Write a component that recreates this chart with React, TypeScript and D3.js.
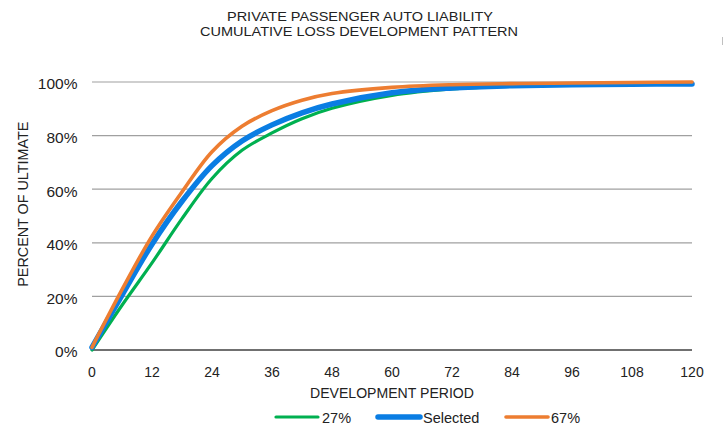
import React from "react";
import * as d3 from "d3";

const months = [0, 6, 12, 18, 24, 30, 36, 42, 48, 60, 72, 84, 96, 108, 120];
const low27 = [0, 16.7, 32.5, 49, 64, 74.5, 81, 86.3, 90.2, 95, 97.4, 98.5, 99.0, 99.3, 99.5];
const selected = [1, 20.5, 39.5, 55.5, 68.8, 78, 84, 88.5, 91.8, 96, 97.8, 98.6, 99.0, 99.2, 99.3];
const high67 = [1, 22.5, 42.5, 59, 74, 83.5, 89.3, 93.2, 95.7, 98, 99, 99.4, 99.6, 99.8, 100];
const xTicks = [0, 12, 24, 36, 48, 60, 72, 84, 96, 108, 120];
const yTicks = [0, 20, 40, 60, 80, 100];
const seriesNames = ["27%", "Selected", "67%"];

const W = 724, H = 431;
const FONT = "'Liberation Sans', Arial, sans-serif";

export default function App() {
  const x = d3.scaleLinear().domain([0, 120]).range([92, 692]);
  const y = d3.scaleLinear().domain([0, 100]).range([350, 82]);
  const line = d3
    .line<[number, number]>()
    .x((d) => x(d[0]))
    .y((d) => y(d[1]))
    .curve(d3.curveCatmullRom.alpha(0.5));
  const series = [
    { name: seriesNames[0], vals: low27, color: "#00B050", w: 3.2 },
    { name: seriesNames[1], vals: selected, color: "#0A7DE3", w: 5.5 },
    { name: seriesNames[2], vals: high67, color: "#ED7D31", w: 3.6 },
  ];
  const legend = [
    { i: 0, x1: 276, tx: 322 },
    { i: 1, x1: 378, tx: 423 },
    { i: 2, x1: 506, tx: 551 },
  ];
  return (
    <svg
      width={W}
      height={H}
      style={{ position: "absolute", left: 0, top: 0, background: "#fff" }}
      fontFamily={FONT}
    >
      <rect width={W} height={H} fill="#fff" />
      <text x={227} y={20.5} fontSize={13} fill="#222" textLength={266} lengthAdjust="spacingAndGlyphs">
        PRIVATE PASSENGER AUTO LIABILITY
      </text>
      <text x={200} y={35.5} fontSize={13} fill="#222" textLength={318} lengthAdjust="spacingAndGlyphs">
        CUMULATIVE LOSS DEVELOPMENT PATTERN
      </text>
      {yTicks.map((t) =>
        t === 0 ? null : (
          <line key={t} x1={92} x2={692} y1={y(t)} y2={y(t)} stroke="#A0A0A0" strokeWidth={1.2} />
        )
      )}
      <line x1={92} x2={692} y1={y(0)} y2={y(0)} stroke="#404040" strokeWidth={1.3} />
      {yTicks.map((t) => (
        <text key={t} x={77.5} y={y(t) + 7.3} textAnchor="end" fontSize={15.5} fill="#222">
          {t}%
        </text>
      ))}
      {xTicks.map((t) => (
        <text key={t} x={x(t)} y={376.7} textAnchor="middle" fontSize={14} fill="#222">
          {t}
        </text>
      ))}
      <text x={310} y={398.3} fontSize={14} fill="#222" textLength={164} lengthAdjust="spacingAndGlyphs">
        DEVELOPMENT PERIOD
      </text>
      <text
        transform={`translate(28.3,286.7) rotate(-90)`}
        fontSize={14}
        fill="#222"
        textLength={165}
        lengthAdjust="spacingAndGlyphs"
      >
        PERCENT OF ULTIMATE
      </text>
      {series.map((s) => {
        const pts = months.map((m, k) => [m, s.vals[k]] as [number, number]);
        return (
          <path
            key={s.name}
            d={line(pts) || ""}
            fill="none"
            stroke={s.color}
            strokeWidth={s.w}
            strokeLinecap="round"
            strokeLinejoin="round"
          />
        );
      })}
      {legend.map((l) => {
        const s = series[l.i];
        return (
          <g key={s.name}>
            <line x1={l.x1} x2={l.x1 + 42} y1={417} y2={417} stroke={s.color} strokeWidth={s.w} strokeLinecap="round" />
            <text x={l.tx} y={423} fontSize={14.5} fill="#222">
              {s.name}
            </text>
          </g>
        );
      })}
      <line x1={722.5} x2={722.5} y1={37} y2={45} stroke="#C0C0C0" strokeWidth={1} />
    </svg>
  );
}
